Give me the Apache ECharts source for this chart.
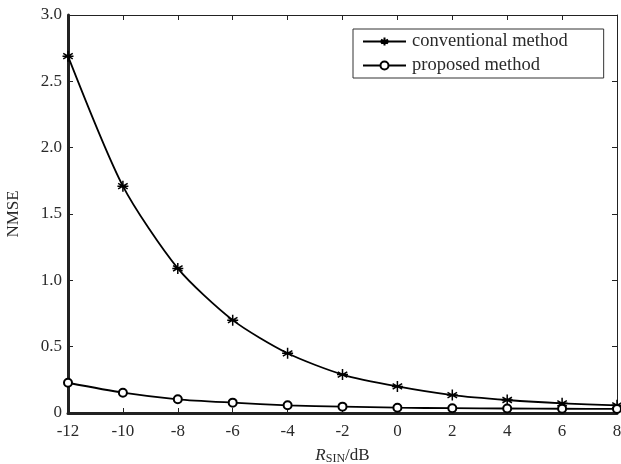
<!DOCTYPE html>
<html>
<head>
<meta charset="utf-8">
<script src="https://cdn.jsdelivr.net/npm/echarts@6/dist/echarts.min.js"></script>
<style>
  html, body { margin: 0; padding: 0; background: #fff; }
  #chart { width: 621px; height: 464px; }
</style>
</head>
<body>
<div id="chart"></div>
<script>
// snr points (dB)
var xValues = [-12, -10, -8, -6, -4, -2, 0, 2, 4, 6, 8];
// NMSE
var conventional = [2.69, 1.71, 1.09, 0.70, 0.45, 0.29, 0.20, 0.135, 0.098, 0.073, 0.058];
var proposed     = [0.228, 0.153, 0.103, 0.078, 0.058, 0.048, 0.040, 0.036, 0.034, 0.032, 0.031];
var yTicks = ['0', '0.5', '1.0', '1.5', '2.0', '2.5', '3.0'];

var FONT = 'Liberation Serif';
var TXT = '#2a2a2a';
var STAR = 'path://M0,-10L0,10M-8.66,-5L8.66,5M-8.66,5L8.66,-5M-10,0L10,0';

function pairs(ys) {
  var out = [], i;
  for (i = 0; i < xValues.length; i++) { out.push([xValues[i], ys[i]]); }
  return out;
}

var chart = echarts.init(document.getElementById('chart'));

chart.setOption({
  animation : false,
  backgroundColor : '#fff',
  grid : { left : 68, right : 4, top : 15, bottom : 51, containLabel : false, outerBoundsMode : 'none' },
  legend : {
    left : 353, top : 29,
    orient : 'vertical',
    backgroundColor : '#fff',
    borderColor : '#333', borderWidth : 1,
    padding : [3, 36, 3, 9],
    itemGap : 5,
    itemWidth : 43, itemHeight : 10,
    textStyle : { fontFamily : FONT, fontSize : 18.5, color : TXT, padding : [0, 0, 0, 1] },
    data : ['conventional method', 'proposed method']
  },
  xAxis : [{
    type : 'value', min : -12, max : 8, interval : 2,
    name : '{i|R}{s|SIN}{n|/dB}',
    nameLocation : 'middle', nameGap : 34,
    nameTextStyle : {
      rich : {
        i : { fontFamily : FONT, fontSize : 17, fontStyle : 'italic', color : TXT },
        s : { fontFamily : FONT, fontSize : 12, color : TXT, padding : [6, 0, 0, 0] },
        n : { fontFamily : FONT, fontSize : 17, color : TXT }
      }
    },
    axisLine : { onZero : false, lineStyle : { color : '#222', width : 3 } },
    axisTick : { inside : true, length : 5, lineStyle : { color : '#222', width : 1 } },
    axisLabel : { fontFamily : FONT, fontSize : 17, color : TXT, margin : 10 },
    splitLine : { show : false }
  }, {
    type : 'value', min : -12, max : 8, interval : 2, position : 'top',
    axisLine : { onZero : false, lineStyle : { color : '#222', width : 1 } },
    axisTick : { inside : true, length : 5, lineStyle : { color : '#222' } },
    axisLabel : { show : false },
    splitLine : { show : false }
  }],
  yAxis : [{
    type : 'value', min : 0, max : 3, interval : 0.5,
    name : 'NMSE', nameLocation : 'middle', nameGap : 46,
    nameTextStyle : { fontFamily : FONT, fontSize : 17, color : TXT },
    axisLine : { onZero : false, lineStyle : { color : '#222', width : 3 } },
    axisTick : { inside : true, length : 5, lineStyle : { color : '#222' } },
    axisLabel : {
      fontFamily : FONT, fontSize : 17, color : TXT, margin : 6,
      formatter : function (v) { return yTicks[Math.round(v / 0.5)]; }
    },
    splitLine : { show : false }
  }, {
    type : 'value', min : 0, max : 3, interval : 0.5, position : 'right',
    axisLine : { onZero : false, lineStyle : { color : '#222', width : 1 } },
    axisTick : { inside : true, length : 5, lineStyle : { color : '#222' } },
    axisLabel : { show : false },
    splitLine : { show : false }
  }],
  series : [{
    name : 'conventional method',
    type : 'line',
    data : pairs(conventional),
    smooth : 0.25,
    symbol : STAR, symbolSize : 11,
    lineStyle : { color : '#000', width : 1.8 },
    itemStyle : { color : 'none', borderColor : '#000', borderWidth : 1.5 }
  }, {
    name : 'proposed method',
    type : 'line',
    data : pairs(proposed),
    smooth : 0.25,
    symbol : 'emptyCircle', symbolSize : 8,
    lineStyle : { color : '#000', width : 1.8 },
    itemStyle : { color : '#000', borderColor : '#000', borderWidth : 1.1 }
  }]
});
</script>
</body>
</html>
